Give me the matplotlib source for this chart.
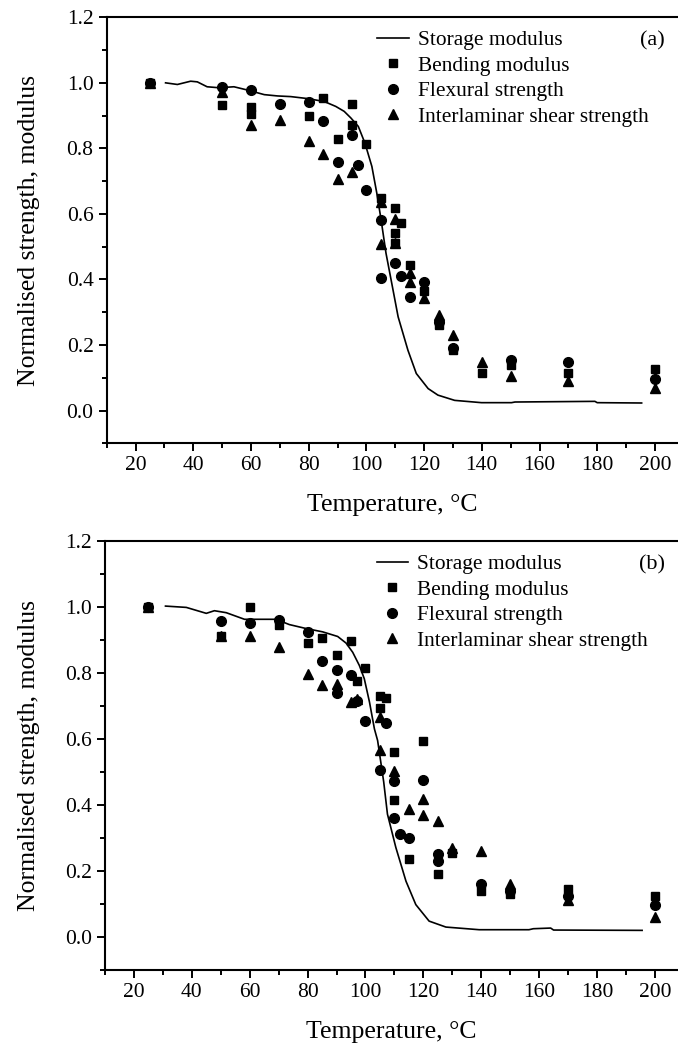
import matplotlib
matplotlib.use("Agg")
import matplotlib.pyplot as plt
from matplotlib.ticker import MultipleLocator, FormatStrFormatter

plt.rcParams['font.family'] = ['Liberation Serif', 'DejaVu Serif']
plt.rcParams['mathtext.fontset'] = 'stix'

# ---------------- Panel (a) ----------------
a_storage_T = [30.4, 34.5, 39.1, 41.4, 44.8, 48.9, 54.1, 58.8, 64.6, 69.2, 73.8, 79.6,
               85.4, 89.4, 92.3, 94.6, 97.2, 99.5, 101.9, 103.6, 105.1, 106.8, 108.8,
               111.0, 114.4, 117.3, 121.4, 124.8, 130.6, 139.9, 150.3, 151.5, 179.2,
               180.0, 195.4]
a_storage_E = [1.000, 0.995, 1.005, 1.003, 0.988, 0.985, 0.988, 0.978, 0.964, 0.960, 0.958,
               0.952, 0.943, 0.928, 0.913, 0.893, 0.867, 0.816, 0.745, 0.664, 0.582, 0.480,
               0.388, 0.286, 0.184, 0.113, 0.067, 0.047, 0.031, 0.024, 0.024, 0.026, 0.028,
               0.024, 0.023]

a_bend_T = [25, 50, 60, 60, 80, 85, 90, 95, 95, 100, 105, 110, 112, 110, 110, 115, 120,
            125, 130, 140, 150, 170, 200]
a_bend_V = [1.0, 0.931, 0.925, 0.905, 0.900, 0.953, 0.830, 0.935, 0.870, 0.812, 0.650,
            0.617, 0.572, 0.541, 0.511, 0.444, 0.366, 0.261, 0.184, 0.116, 0.139, 0.116,
            0.128]

a_flex_T = [25, 50, 60, 70, 80, 85, 90, 95, 97, 100, 105, 105, 110, 112, 115, 120, 125,
            130, 150, 170, 200]
a_flex_V = [1.0, 0.988, 0.977, 0.936, 0.942, 0.883, 0.757, 0.842, 0.750, 0.673, 0.581,
            0.403, 0.451, 0.411, 0.347, 0.393, 0.270, 0.190, 0.154, 0.149, 0.096]

a_ilss_T = [25, 50, 60, 70, 80, 85, 90, 95, 105, 105, 110, 110, 115, 115, 120, 125, 130,
            140, 150, 170, 200]
a_ilss_V = [1.0, 0.971, 0.872, 0.886, 0.821, 0.784, 0.706, 0.727, 0.636, 0.509, 0.584,
            0.510, 0.421, 0.393, 0.342, 0.291, 0.230, 0.149, 0.105, 0.090, 0.069]

# ---------------- Panel (b) ----------------
b_storage_T = [30.9, 38.1, 45.0, 47.8, 51.9, 58.2, 63.4, 69.1, 73.7, 79.5, 85.2, 90.4,
               93.3, 95.6, 97.9, 99.6, 101.4, 103.1, 104.2, 106.3, 107.6, 110.5, 114.0,
               117.4, 122.0, 127.8, 139.3, 156.5, 158.0, 164.0, 165.0, 195.6]
b_storage_E = [1.002, 0.998, 0.980, 0.988, 0.982, 0.962, 0.962, 0.962, 0.946, 0.934,
               0.924, 0.910, 0.890, 0.862, 0.822, 0.782, 0.711, 0.630, 0.595, 0.470,
               0.372, 0.271, 0.169, 0.098, 0.048, 0.030, 0.022, 0.022, 0.025, 0.027,
               0.021, 0.020]

b_bend_T = [25, 50, 60, 70, 80, 85, 90, 95, 97, 100, 105, 107, 105, 110, 110, 115, 120,
            125, 130, 140, 150, 170, 200]
b_bend_V = [1.0, 0.911, 1.0, 0.946, 0.891, 0.904, 0.855, 0.895, 0.774, 0.813, 0.729,
            0.725, 0.692, 0.559, 0.414, 0.235, 0.593, 0.190, 0.255, 0.139, 0.131, 0.144,
            0.124]

b_flex_T = [25, 50, 60, 70, 80, 85, 90, 90, 95, 97, 100, 105, 107, 110, 110, 112, 115,
            120, 125, 125, 140, 150, 170, 200]
b_flex_V = [1.0, 0.957, 0.951, 0.960, 0.924, 0.835, 0.808, 0.738, 0.793, 0.716, 0.655,
            0.506, 0.647, 0.471, 0.360, 0.311, 0.299, 0.474, 0.250, 0.230, 0.161, 0.140,
            0.124, 0.096]

b_ilss_T = [25, 50, 60, 70, 80, 85, 90, 95, 97, 105, 105, 110, 115, 120, 120, 125, 130,
            140, 150, 170, 200]
b_ilss_V = [1.0, 0.910, 0.911, 0.878, 0.797, 0.762, 0.767, 0.711, 0.720, 0.666, 0.567,
            0.504, 0.387, 0.418, 0.370, 0.350, 0.270, 0.260, 0.161, 0.112, 0.061]

legend_labels = ["Storage modulus", "Bending modulus", "Flexural strength",
                 "Interlaminar shear strength"]
xlabel = "Temperature, \u00b0C"
ylabel = "Normalised strength, modulus"

fig = plt.figure(figsize=(6.78, 10.44), dpi=100)
W, H = 678.0, 1044.0


def make_axes(left, top, bottom):
    return fig.add_axes([left / W, 1 - bottom / H, 1 - left / W, (bottom - top) / H])


panels = [
    dict(ax=make_axes(106.7, 17.3, 443.3), tag="(a)", legy=0.9695, tagy=0.944,
         ylx=-0.117,
         st=(a_storage_T, a_storage_E), bend=(a_bend_T, a_bend_V),
         flex=(a_flex_T, a_flex_V), ilss=(a_ilss_T, a_ilss_V)),
    dict(ax=make_axes(105.0, 540.7, 970.0), tag="(b)", legy=0.968, tagy=0.943,
         ylx=-0.113,
         st=(b_storage_T, b_storage_E), bend=(b_bend_T, b_bend_V),
         flex=(b_flex_T, b_flex_V), ilss=(b_ilss_T, b_ilss_V)),
]

for p in panels:
    ax = p["ax"]
    l1, = ax.plot(*p["st"], color="black", lw=1.2)
    l2, = ax.plot(*p["bend"], ls="none", marker="s", ms=6.3, color="black")
    l3, = ax.plot(*p["flex"], ls="none", marker="o", ms=7.0, color="black")
    l4, = ax.plot(*p["ilss"], ls="none", marker="^", ms=7.8, color="black")
    ax.set_xlim(10, 208)
    ax.set_ylim(-0.1, 1.2)
    ax.xaxis.set_major_locator(MultipleLocator(20))
    ax.xaxis.set_minor_locator(MultipleLocator(10))
    ax.yaxis.set_major_locator(MultipleLocator(0.2))
    ax.yaxis.set_minor_locator(MultipleLocator(0.1))
    ax.yaxis.set_major_formatter(FormatStrFormatter("%.1f"))
    ax.tick_params(which="major", direction="out", length=6, width=1.4,
                   labelsize=15.5, pad=3.5)
    ax.tick_params(which="minor", direction="out", length=3.6, width=1.4)
    ax.spines["right"].set_visible(False)
    for s in ("left", "bottom", "top"):
        ax.spines[s].set_linewidth(1.5)
    ax.set_xlabel(xlabel, fontsize=18.5)
    ax.set_ylabel(ylabel, fontsize=18.5)
    ax.xaxis.set_label_coords(0.5, -0.118)
    ax.yaxis.set_label_coords(p["ylx"], 0.5)
    ax.legend([l1, l2, l3, l4], legend_labels, loc="upper left",
              bbox_to_anchor=(0.474, p["legy"]), frameon=False, fontsize=15.4,
              handlelength=1.45, handletextpad=0.45, labelspacing=0.256,
              borderpad=0, borderaxespad=0, numpoints=1)
    ax.text(0.955, p["tagy"], p["tag"], transform=ax.transAxes, fontsize=16,
            ha="center", va="center")

fig.savefig("out.png", dpi=100)
